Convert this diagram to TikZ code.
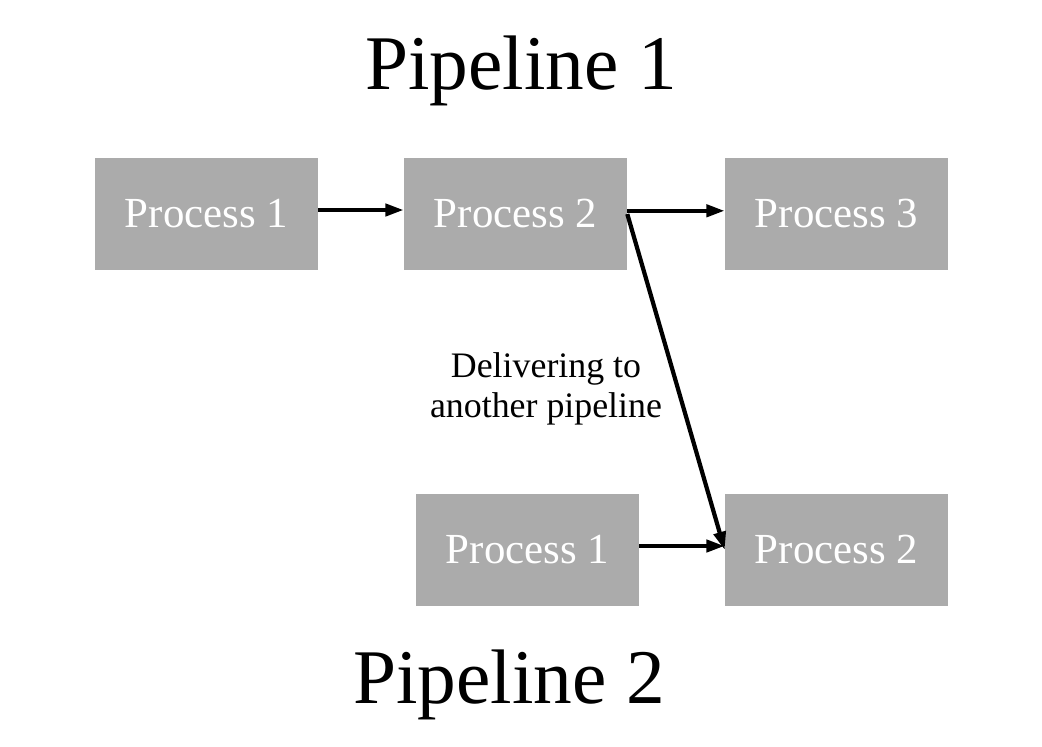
\documentclass[tikz,border=0pt]{standalone}
\usepackage{fontspec}
\setmainfont{Liberation Serif}
\usetikzlibrary{arrows.meta}
\definecolor{boxgray}{HTML}{ABABAB}
\tikzset{
  process/.style = {fill = boxgray, text = white, minimum width = 5.575cm,
    minimum height = 2.8cm, inner sep = 0pt,
    font = \fontsize{30.5}{36}\selectfont},
  flow/.style = {-{Triangle[length = 13pt, width = 8.5pt]}, line width = 3pt},
  title/.style = {font = \fontsize{55}{66}\selectfont}
}
\begin{document}
\begin{tikzpicture}
      \useasboundingbox (0,0) rectangle (26.05,-18.65);
      \node [title] (pipeA) at (13.025,-1.78) {Pipeline 1};
      \node [process] (pa1) at (5.1625,-5.35) {Process 1};
      \node [process] (pa2) at (12.8875,-5.35) {Process 2};
      \node [process] (pa3) at (20.9125,-5.35) {Process 3};
      \node [process] (pb1) at (13.1875,-13.75) {Process 1};
      \node [process] (pb2) at (20.9125,-13.75) {Process 2};
      \node [title] (pipeB) at (12.725,-17.13) {Pipeline 2};
      \node [align = center, font = \fontsize{25.5}{28.5}\selectfont]
        (deliver) at (13.65,-9.72) {Delivering to\\another pipeline};
      \draw [flow] ([yshift = .1cm] pa1.east) -- ([yshift = .1cm] pa2.west);
      \draw [flow] ([yshift = .08cm] pa2.east) -- ([yshift = .08cm] pa3.west);
      \draw [flow] ([yshift = .1cm] pb1.east) -- ([yshift = .1cm] pb2.west);
      \draw [flow] (pa2.east) -- (pb2.west);
    \end{tikzpicture}
\end{document}
